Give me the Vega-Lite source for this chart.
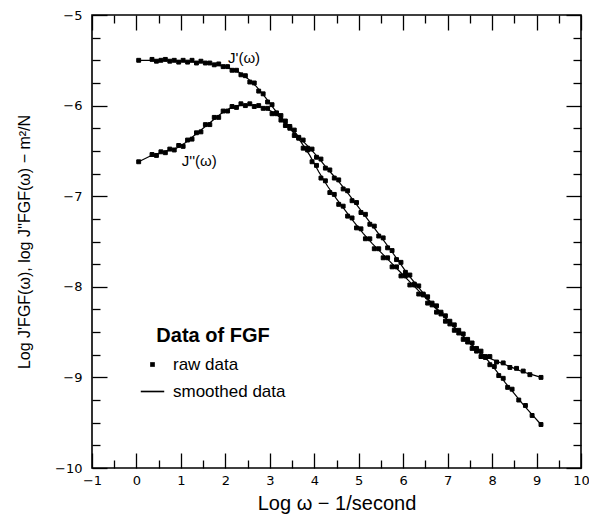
{
  "$schema": "https://vega.github.io/schema/vega-lite/v6.json",
  "autosize": "none",
  "width": 489,
  "height": 453,
  "padding": {"left": 92, "top": 15, "right": 8, "bottom": 51},
  "background": "white",
  "config": {
    "view": {"stroke": "black", "strokeWidth": 1.6},
    "axis": {"grid": false, "domain": false, "tickColor": "black", "tickWidth": 1.3, "labelColor": "black", "titleColor": "black", "labelFont": "DejaVu Sans", "labelFontSize": 13, "titleFont": "Liberation Sans", "titleFontWeight": "normal"},
    "legend": {"labelFont": "Liberation Sans", "titleFont": "Liberation Sans"}
  },
  "datasets": {
    "raw": [
      {"s":"J1","x":0.05,"y":-5.50},{"s":"J1","x":0.35,"y":-5.49},{"s":"J1","x":0.45,"y":-5.51},{"s":"J1","x":0.55,"y":-5.50},{"s":"J1","x":0.65,"y":-5.49},{"s":"J1","x":0.75,"y":-5.51},{"s":"J1","x":0.85,"y":-5.50},{"s":"J1","x":0.95,"y":-5.52},{"s":"J1","x":1.05,"y":-5.50},{"s":"J1","x":1.15,"y":-5.52},{"s":"J1","x":1.25,"y":-5.50},{"s":"J1","x":1.35,"y":-5.53},{"s":"J1","x":1.45,"y":-5.51},{"s":"J1","x":1.55,"y":-5.53},{"s":"J1","x":1.65,"y":-5.53},{"s":"J1","x":1.75,"y":-5.55},{"s":"J1","x":1.85,"y":-5.54},{"s":"J1","x":1.95,"y":-5.57},{"s":"J1","x":2.05,"y":-5.57},{"s":"J1","x":2.15,"y":-5.61},{"s":"J1","x":2.25,"y":-5.61},{"s":"J1","x":2.35,"y":-5.66},{"s":"J1","x":2.45,"y":-5.67},{"s":"J1","x":2.55,"y":-5.74},{"s":"J1","x":2.65,"y":-5.75},{"s":"J1","x":2.75,"y":-5.84},{"s":"J1","x":2.85,"y":-5.87},{"s":"J1","x":2.95,"y":-5.96},{"s":"J1","x":3.05,"y":-5.99},{"s":"J1","x":3.15,"y":-6.09},{"s":"J1","x":3.25,"y":-6.11},{"s":"J1","x":3.35,"y":-6.22},{"s":"J1","x":3.45,"y":-6.23},{"s":"J1","x":3.55,"y":-6.33},{"s":"J1","x":3.65,"y":-6.35},{"s":"J1","x":3.75,"y":-6.47},{"s":"J1","x":3.85,"y":-6.49},{"s":"J1","x":3.95,"y":-6.62},{"s":"J1","x":4.05,"y":-6.66},{"s":"J1","x":4.15,"y":-6.80},{"s":"J1","x":4.25,"y":-6.83},{"s":"J1","x":4.35,"y":-6.96},{"s":"J1","x":4.45,"y":-6.98},{"s":"J1","x":4.55,"y":-7.09},{"s":"J1","x":4.65,"y":-7.11},{"s":"J1","x":4.75,"y":-7.22},{"s":"J1","x":4.85,"y":-7.24},{"s":"J1","x":4.95,"y":-7.35},{"s":"J1","x":5.05,"y":-7.36},{"s":"J1","x":5.15,"y":-7.47},{"s":"J1","x":5.25,"y":-7.47},{"s":"J1","x":5.35,"y":-7.58},{"s":"J1","x":5.45,"y":-7.58},{"s":"J1","x":5.55,"y":-7.68},{"s":"J1","x":5.65,"y":-7.68},{"s":"J1","x":5.75,"y":-7.78},{"s":"J1","x":5.85,"y":-7.78},{"s":"J1","x":5.95,"y":-7.88},{"s":"J1","x":6.05,"y":-7.88},{"s":"J1","x":6.15,"y":-7.98},{"s":"J1","x":6.25,"y":-7.98},{"s":"J1","x":6.35,"y":-8.08},{"s":"J1","x":6.45,"y":-8.08},{"s":"J1","x":6.55,"y":-8.18},{"s":"J1","x":6.65,"y":-8.18},{"s":"J1","x":6.75,"y":-8.28},{"s":"J1","x":6.85,"y":-8.28},{"s":"J1","x":6.95,"y":-8.38},{"s":"J1","x":7.05,"y":-8.38},{"s":"J1","x":7.15,"y":-8.48},{"s":"J1","x":7.25,"y":-8.48},{"s":"J1","x":7.35,"y":-8.58},{"s":"J1","x":7.45,"y":-8.58},{"s":"J1","x":7.55,"y":-8.68},{"s":"J1","x":7.65,"y":-8.68},{"s":"J1","x":7.75,"y":-8.77},{"s":"J1","x":7.85,"y":-8.77},{"s":"J1","x":7.95,"y":-8.86},{"s":"J1","x":8.05,"y":-8.88},{"s":"J1","x":8.15,"y":-8.98},{"s":"J1","x":8.25,"y":-9.01},{"s":"J1","x":8.35,"y":-9.11},{"s":"J1","x":8.45,"y":-9.13},{"s":"J1","x":8.6,"y":-9.25},{"s":"J1","x":8.75,"y":-9.31},{"s":"J1","x":8.9,"y":-9.42},{"s":"J1","x":9.1,"y":-9.52},
      {"s":"J2","x":0.05,"y":-6.62},{"s":"J2","x":0.35,"y":-6.54},{"s":"J2","x":0.45,"y":-6.55},{"s":"J2","x":0.55,"y":-6.51},{"s":"J2","x":0.65,"y":-6.52},{"s":"J2","x":0.75,"y":-6.48},{"s":"J2","x":0.85,"y":-6.49},{"s":"J2","x":0.95,"y":-6.44},{"s":"J2","x":1.05,"y":-6.45},{"s":"J2","x":1.15,"y":-6.38},{"s":"J2","x":1.25,"y":-6.37},{"s":"J2","x":1.35,"y":-6.30},{"s":"J2","x":1.45,"y":-6.29},{"s":"J2","x":1.55,"y":-6.21},{"s":"J2","x":1.65,"y":-6.21},{"s":"J2","x":1.75,"y":-6.13},{"s":"J2","x":1.85,"y":-6.13},{"s":"J2","x":1.95,"y":-6.06},{"s":"J2","x":2.05,"y":-6.06},{"s":"J2","x":2.15,"y":-6.01},{"s":"J2","x":2.25,"y":-6.02},{"s":"J2","x":2.35,"y":-5.98},{"s":"J2","x":2.45,"y":-6.00},{"s":"J2","x":2.55,"y":-5.98},{"s":"J2","x":2.65,"y":-6.01},{"s":"J2","x":2.75,"y":-6.00},{"s":"J2","x":2.85,"y":-6.03},{"s":"J2","x":2.95,"y":-6.03},{"s":"J2","x":3.05,"y":-6.09},{"s":"J2","x":3.15,"y":-6.08},{"s":"J2","x":3.25,"y":-6.16},{"s":"J2","x":3.35,"y":-6.17},{"s":"J2","x":3.45,"y":-6.25},{"s":"J2","x":3.55,"y":-6.27},{"s":"J2","x":3.65,"y":-6.36},{"s":"J2","x":3.75,"y":-6.38},{"s":"J2","x":3.85,"y":-6.47},{"s":"J2","x":3.95,"y":-6.48},{"s":"J2","x":4.05,"y":-6.57},{"s":"J2","x":4.15,"y":-6.59},{"s":"J2","x":4.25,"y":-6.69},{"s":"J2","x":4.35,"y":-6.71},{"s":"J2","x":4.45,"y":-6.80},{"s":"J2","x":4.55,"y":-6.82},{"s":"J2","x":4.65,"y":-6.92},{"s":"J2","x":4.75,"y":-6.94},{"s":"J2","x":4.85,"y":-7.05},{"s":"J2","x":4.95,"y":-7.07},{"s":"J2","x":5.05,"y":-7.18},{"s":"J2","x":5.15,"y":-7.20},{"s":"J2","x":5.25,"y":-7.31},{"s":"J2","x":5.35,"y":-7.33},{"s":"J2","x":5.45,"y":-7.44},{"s":"J2","x":5.55,"y":-7.46},{"s":"J2","x":5.65,"y":-7.57},{"s":"J2","x":5.75,"y":-7.60},{"s":"J2","x":5.85,"y":-7.70},{"s":"J2","x":5.95,"y":-7.73},{"s":"J2","x":6.05,"y":-7.84},{"s":"J2","x":6.15,"y":-7.87},{"s":"J2","x":6.25,"y":-7.97},{"s":"J2","x":6.35,"y":-7.99},{"s":"J2","x":6.45,"y":-8.09},{"s":"J2","x":6.55,"y":-8.11},{"s":"J2","x":6.65,"y":-8.20},{"s":"J2","x":6.75,"y":-8.21},{"s":"J2","x":6.85,"y":-8.30},{"s":"J2","x":6.95,"y":-8.32},{"s":"J2","x":7.05,"y":-8.41},{"s":"J2","x":7.15,"y":-8.42},{"s":"J2","x":7.25,"y":-8.51},{"s":"J2","x":7.35,"y":-8.52},{"s":"J2","x":7.45,"y":-8.61},{"s":"J2","x":7.55,"y":-8.62},{"s":"J2","x":7.65,"y":-8.71},{"s":"J2","x":7.75,"y":-8.71},{"s":"J2","x":7.85,"y":-8.78},{"s":"J2","x":7.95,"y":-8.77},{"s":"J2","x":8.1,"y":-8.83},{"s":"J2","x":8.25,"y":-8.84},{"s":"J2","x":8.4,"y":-8.89},{"s":"J2","x":8.55,"y":-8.90},{"s":"J2","x":8.7,"y":-8.93},{"s":"J2","x":8.85,"y":-8.97},{"s":"J2","x":9.1,"y":-9.00}
    ],
    "smooth": [
      {"s":"J1","x":0.05,"y":-5.50},{"s":"J1","x":0.5,"y":-5.50},{"s":"J1","x":1.0,"y":-5.51},{"s":"J1","x":1.5,"y":-5.52},{"s":"J1","x":2.0,"y":-5.57},{"s":"J1","x":2.3,"y":-5.63},{"s":"J1","x":2.5,"y":-5.70},{"s":"J1","x":2.7,"y":-5.79},{"s":"J1","x":2.9,"y":-5.91},{"s":"J1","x":3.1,"y":-6.04},{"s":"J1","x":3.3,"y":-6.16},{"s":"J1","x":3.5,"y":-6.28},{"s":"J1","x":3.7,"y":-6.40},{"s":"J1","x":3.9,"y":-6.55},{"s":"J1","x":4.1,"y":-6.73},{"s":"J1","x":4.3,"y":-6.89},{"s":"J1","x":4.5,"y":-7.03},{"s":"J1","x":4.7,"y":-7.16},{"s":"J1","x":4.9,"y":-7.29},{"s":"J1","x":5.1,"y":-7.41},{"s":"J1","x":5.3,"y":-7.52},{"s":"J1","x":5.5,"y":-7.62},{"s":"J1","x":5.7,"y":-7.72},{"s":"J1","x":5.9,"y":-7.82},{"s":"J1","x":6.1,"y":-7.92},{"s":"J1","x":6.3,"y":-8.02},{"s":"J1","x":6.5,"y":-8.12},{"s":"J1","x":6.7,"y":-8.22},{"s":"J1","x":6.9,"y":-8.32},{"s":"J1","x":7.1,"y":-8.42},{"s":"J1","x":7.3,"y":-8.52},{"s":"J1","x":7.5,"y":-8.62},{"s":"J1","x":7.7,"y":-8.72},{"s":"J1","x":7.9,"y":-8.81},{"s":"J1","x":8.1,"y":-8.93},{"s":"J1","x":8.3,"y":-9.06},{"s":"J1","x":8.5,"y":-9.18},{"s":"J1","x":8.7,"y":-9.30},{"s":"J1","x":8.9,"y":-9.41},{"s":"J1","x":9.1,"y":-9.52},
      {"s":"J2","x":0.05,"y":-6.62},{"s":"J2","x":0.3,"y":-6.56},{"s":"J2","x":0.6,"y":-6.51},{"s":"J2","x":0.9,"y":-6.47},{"s":"J2","x":1.1,"y":-6.41},{"s":"J2","x":1.3,"y":-6.33},{"s":"J2","x":1.5,"y":-6.25},{"s":"J2","x":1.7,"y":-6.17},{"s":"J2","x":1.9,"y":-6.09},{"s":"J2","x":2.1,"y":-6.03},{"s":"J2","x":2.3,"y":-6.00},{"s":"J2","x":2.5,"y":-5.99},{"s":"J2","x":2.7,"y":-6.00},{"s":"J2","x":2.9,"y":-6.03},{"s":"J2","x":3.1,"y":-6.08},{"s":"J2","x":3.3,"y":-6.16},{"s":"J2","x":3.5,"y":-6.26},{"s":"J2","x":3.7,"y":-6.37},{"s":"J2","x":3.9,"y":-6.47},{"s":"J2","x":4.1,"y":-6.58},{"s":"J2","x":4.3,"y":-6.70},{"s":"J2","x":4.5,"y":-6.81},{"s":"J2","x":4.7,"y":-6.93},{"s":"J2","x":4.9,"y":-7.06},{"s":"J2","x":5.1,"y":-7.19},{"s":"J2","x":5.3,"y":-7.32},{"s":"J2","x":5.5,"y":-7.45},{"s":"J2","x":5.7,"y":-7.58},{"s":"J2","x":5.9,"y":-7.72},{"s":"J2","x":6.1,"y":-7.86},{"s":"J2","x":6.3,"y":-7.98},{"s":"J2","x":6.5,"y":-8.10},{"s":"J2","x":6.7,"y":-8.21},{"s":"J2","x":6.9,"y":-8.31},{"s":"J2","x":7.1,"y":-8.42},{"s":"J2","x":7.3,"y":-8.52},{"s":"J2","x":7.5,"y":-8.62},{"s":"J2","x":7.7,"y":-8.71},{"s":"J2","x":7.9,"y":-8.78},{"s":"J2","x":8.1,"y":-8.82},{"s":"J2","x":8.3,"y":-8.86},{"s":"J2","x":8.5,"y":-8.90},{"s":"J2","x":8.7,"y":-8.94},{"s":"J2","x":8.9,"y":-8.97},{"s":"J2","x":9.1,"y":-9.00}
    ],
    "labels": [
      {"text":"J'(ω)","x":2.06,"y":-5.47},
      {"text":"J''(ω)","x":1.02,"y":-6.61}
    ]
  },
  "resolve": {"axis": {"x": "independent", "y": "independent"}},
  "layer": [
    {
      "data": {"name": "raw"},
      "mark": {"type": "point", "filled": true, "color": "black", "stroke": "black", "strokeWidth": 1, "opacity": 1, "size": 380},
      "encoding": {
        "x": {"field": "x", "type": "quantitative", "scale": {"domain": [-1, 10], "nice": false, "zero": false},
              "axis": {"orient": "bottom", "values": [-1,0,1,2,3,4,5,6,7,8,9,10], "ticks": false, "labelPadding": 6, "labelFlush": false, "title": "Log ω − 1/second", "titleFontSize": 20, "titlePadding": 6}},
        "y": {"field": "y", "type": "quantitative", "scale": {"domain": [-10, -5], "nice": false, "zero": false},
              "axis": {"orient": "left", "values": [-10,-9,-8,-7,-6,-5], "ticks": false, "labelPadding": 10, "labelFlush": false, "title": "Log J'FGF(ω), log J''FGF(ω) − m²/N", "titleFontSize": 16, "titlePadding": 22}},
        "shape": {"datum": "raw data", "type": "nominal",
                  "scale": {"domain": ["raw data", "smoothed data"], "range": ["M-0.2,-0.2H0.2V0.2H-0.2Z", "M-1,-0.07H1V0.07H-1Z"]},
                  "legend": {"orient": "none", "legendX": 48, "legendY": 311, "title": "Data of FGF", "titleFontSize": 20, "titleFontWeight": "bold", "titleColor": "black", "titleAnchor": "middle", "titlePadding": 6, "labelFontSize": 17, "labelColor": "black", "symbolSize": 550, "symbolStrokeColor": "black", "symbolFillColor": "black", "symbolStrokeWidth": 0.6, "rowPadding": 6, "labelOffset": 8}}
      }
    },
    {
      "data": {"name": "smooth"},
      "mark": {"type": "line", "color": "black", "strokeWidth": 1.2},
      "encoding": {
        "x": {"field": "x", "type": "quantitative", "axis": {"orient": "bottom", "values": [-1,0,1,2,3,4,5,6,7,8,9,10], "labels": false, "tickSize": -15, "title": null}},
        "y": {"field": "y", "type": "quantitative", "axis": {"orient": "left", "values": [-10,-9,-8,-7,-6,-5], "labels": false, "tickSize": -15, "title": null}},
        "detail": {"field": "s"}
      }
    },
    {
      "data": {"name": "smooth"},
      "mark": {"type": "line", "color": "black", "strokeWidth": 0, "opacity": 0},
      "encoding": {
        "x": {"field": "x", "type": "quantitative", "axis": {"orient": "bottom", "values": [-0.5,0.5,1.5,2.5,3.5,4.5,5.5,6.5,7.5,8.5,9.5], "labels": false, "tickSize": -8, "title": null}},
        "y": {"field": "y", "type": "quantitative", "axis": {"orient": "left", "values": [-9.75,-9.5,-9.25,-8.75,-8.5,-8.25,-7.75,-7.5,-7.25,-6.75,-6.5,-6.25,-5.75,-5.5,-5.25], "labels": false, "tickSize": -8, "title": null}},
        "detail": {"field": "s"}
      }
    },
    {
      "data": {"name": "smooth"},
      "mark": {"type": "line", "color": "black", "strokeWidth": 0, "opacity": 0},
      "encoding": {
        "x": {"field": "x", "type": "quantitative", "axis": {"orient": "top", "values": [-1,0,1,2,3,4,5,6,7,8,9,10], "labels": false, "tickSize": -15, "title": null}},
        "y": {"field": "y", "type": "quantitative", "axis": {"orient": "right", "values": [-10,-9,-8,-7,-6,-5], "labels": false, "tickSize": -15, "title": null}},
        "detail": {"field": "s"}
      }
    },
    {
      "data": {"name": "labels"},
      "mark": {"type": "text", "align": "left", "baseline": "middle", "font": "Liberation Sans", "fontSize": 15, "color": "black"},
      "encoding": {
        "x": {"field": "x", "type": "quantitative", "axis": {"orient": "top", "values": [-0.5,0.5,1.5,2.5,3.5,4.5,5.5,6.5,7.5,8.5,9.5], "labels": false, "tickSize": -8, "title": null}},
        "y": {"field": "y", "type": "quantitative", "axis": {"orient": "right", "values": [-9.75,-9.5,-9.25,-8.75,-8.5,-8.25,-7.75,-7.5,-7.25,-6.75,-6.5,-6.25,-5.75,-5.5,-5.25], "labels": false, "tickSize": -8, "title": null}},
        "text": {"field": "text"}
      }
    }
  ]
}
